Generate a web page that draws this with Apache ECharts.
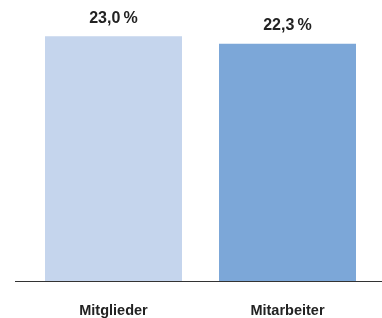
<!DOCTYPE html>
<html>
<head>
<meta charset="utf-8">
<script src="https://cdn.jsdelivr.net/npm/echarts@6/dist/echarts.min.js"></script>
<style>
  html, body { margin: 0; padding: 0; background: #fff; }
  #chart { width: 382px; height: 318px; }
</style>
</head>
<body>
<div id="chart"></div>
<script>
// Daten
var categories = ['Mitglieder', 'Mitarbeiter'];
var values = [23.0, 22.3];
var barColors = ['#c5d5ed', '#7ca7d8'];

var chart = echarts.init(document.getElementById('chart'));

var option = {
  animation: false,
  grid: { left: 26.5, right: 7.5, top: 15, bottom: 37 },
  xAxis: {
    type: 'category',
    data: categories,
    axisLine: { show: false },
    axisTick: { show: false },
    axisLabel: {
      margin: 22,
      fontSize: 14.5,
      fontWeight: 'bold',
      color: '#222',
      fontFamily: 'Liberation Sans'
    }
  },
  yAxis: {
    type: 'value',
    min: 0,
    max: 25,
    show: false,
    splitLine: { show: false }
  },
  series: [{
    type: 'bar',
    barWidth: 137,
    data: values.map(function (v, i) {
      return { value: v, itemStyle: { color: barColors[i] } };
    }),
    label: {
      show: true,
      position: 'top',
      distance: 10,
      fontSize: 16,
      fontWeight: 'bold',
      color: '#222',
      fontFamily: 'Liberation Sans',
      formatter: function (p) {
        return p.value.toFixed(1).replace('.', ',') + '\u2009%';
      }
    }
  }],
  // Grundlinie, etwas breiter als das Raster
  graphic: [{
    type: 'line',
    shape: { x1: 15, y1: 281.5, x2: 382, y2: 281.5 },
    style: { stroke: '#333', lineWidth: 1 },
    z: 10
  }]
};

chart.setOption(option);
</script>
</body>
</html>
